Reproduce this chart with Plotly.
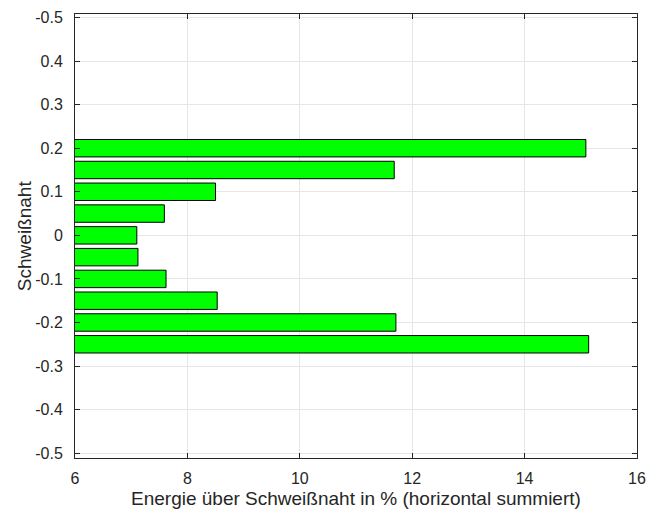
import plotly.graph_objects as go

positions = [0.2, 0.15, 0.1, 0.05, 0.0, -0.05, -0.1, -0.15, -0.2, -0.25]
energy = [15.09, 11.68, 8.50, 7.59, 7.10, 7.12, 7.62, 8.53, 11.71, 15.14]
y_tickvals = [-0.5, -0.4, -0.3, -0.2, -0.1, 0, 0.1, 0.2, 0.3, 0.4, 0.5]
y_ticktext = ["-0.5", "-0.4", "-0.3", "-0.2", "-0.1", "0", "0.1", "0.2", "0.3", "0.4", "-0.5"]
x_tickvals = [6, 8, 10, 12, 14, 16]
x_title = "Energie über Schweißnaht in % (horizontal summiert)"
y_title = "Schweißnaht"

FONT = "Liberation Sans, Arial, Helvetica, sans-serif"
TXT = "#262626"

fig = go.Figure()
fig.add_trace(go.Bar(
    x=energy, y=positions, orientation="h", width=0.04,
    marker=dict(color="#00ff00", line=dict(color="#000000", width=1)),
))

axis_common = dict(
    showline=True, linecolor=TXT, linewidth=1, mirror="ticks",
    ticks="inside", ticklen=5, tickcolor=TXT,
    showgrid=True, gridcolor="#e6e6e6", gridwidth=1, zeroline=False,
    tickfont=dict(family=FONT, size=16, color=TXT),
    automargin=False, ticklabeloverflow="allow",
)

fig.update_layout(
    width=646, height=513,
    margin=dict(l=75, r=9, t=14, b=55),
    paper_bgcolor="white", plot_bgcolor="white",
    showlegend=False,
    xaxis=dict(range=[6, 16], tickvals=x_tickvals, ticklabelstandoff=6, **axis_common),
    yaxis=dict(range=[-0.511, 0.508], tickvals=y_tickvals, ticktext=y_ticktext,
               ticklabelstandoff=8, **axis_common),
    annotations=[
        dict(text=x_title, xref="paper", yref="paper", x=0.5, y=-0.091,
             xanchor="center", yanchor="middle", showarrow=False,
             font=dict(family=FONT, size=19, color=TXT)),
        dict(text=y_title, xref="paper", yref="paper", x=-0.0905, y=0.5,
             xanchor="center", yanchor="middle", showarrow=False, textangle=-90,
             font=dict(family=FONT, size=19, color=TXT)),
    ],
)

fig.write_html("out.html",
               config={"displayModeBar": False},
               post_script="document.body.style.margin='0';document.body.style.overflow='hidden';")
